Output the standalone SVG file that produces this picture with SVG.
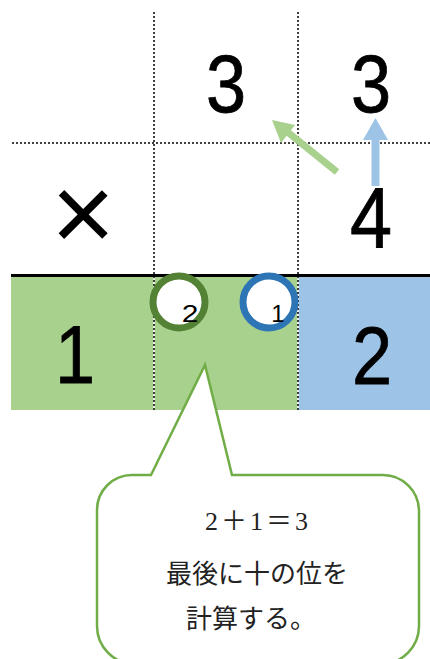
<svg xmlns="http://www.w3.org/2000/svg" width="430" height="659" viewBox="0 0 430 659">
<style>
.big{font-family:"Liberation Sans",Arial,sans-serif;font-size:82px;fill:#000;text-anchor:middle;stroke:#000;stroke-width:0.8}
.small{font-family:"Liberation Sans",Arial,sans-serif;font-size:24px;fill:#000;text-anchor:middle}
.dot{stroke:#000;stroke-width:1.5;stroke-dasharray:2 2;fill:none}
.jp{font-family:"Liberation Serif","Noto Sans CJK JP",serif;font-size:26px;fill:#222;text-anchor:middle}
</style>
<rect width="430" height="659" fill="#fff"/>
<g id="grid">
<rect x="11" y="277" width="287" height="133" fill="#A9D18E"/>
<rect x="298" y="277" width="132" height="133" fill="#9DC3E6"/>
<line x1="154" y1="277" x2="154" y2="410" stroke="#fff" stroke-width="1.5"/>
<line x1="298" y1="277" x2="298" y2="410" stroke="#fff" stroke-width="1.5"/>
<line class="dot" x1="154" y1="12" x2="154" y2="410"/>
<line class="dot" x1="298" y1="12" x2="298" y2="410"/>
<line class="dot" x1="12" y1="143" x2="430" y2="143"/>
<line x1="11" y1="275.5" x2="430" y2="275.5" stroke="#000" stroke-width="3"/>
</g>
<g id="digits">
<text class="big" x="226" y="112" transform="translate(226 0) scale(0.88 1) translate(-226 0)">3</text>
<text class="big" x="371" y="112" transform="translate(371 0) scale(0.88 1) translate(-371 0)">3</text>
<text class="big" x="83" y="251" style="font-size:110px;stroke-width:0">×</text>
<text class="big" x="371" y="247" style="font-size:86px" transform="translate(371 0) scale(0.88 1) translate(-371 0)">4</text>
<text class="big" x="75" y="383" transform="translate(75 0) scale(0.88 1) translate(-75 0)">1</text>
<text class="big" x="372" y="384" transform="translate(372 0) scale(0.88 1) translate(-372 0)">2</text>
</g>
<g id="carry-circles">
<circle cx="179" cy="302" r="26" fill="#fff" stroke="#548235" stroke-width="7"/>
<circle cx="269" cy="302" r="26" fill="#fff" stroke="#2E75B6" stroke-width="7"/>
<text class="small" x="190" y="322" transform="translate(190 0) scale(1.25 1) translate(-190 0)">2</text>
<text class="small" x="278" y="322">1</text>
</g>
<g id="connectors">
<line x1="337" y1="172" x2="285" y2="130" stroke="#A9D18E" stroke-width="7"/>
<polygon points="272,120 295,125 281,143" fill="#A9D18E"/>
<line x1="375.5" y1="186" x2="375.5" y2="138" stroke="#9DC3E6" stroke-width="8"/>
<polygon points="375.5,118 388,140 363,140" fill="#9DC3E6"/>
</g>
<g id="callout">
<path d="M151,475 L205,365 L232,475 L383,475 A36 36 0 0 1 419,511 L419,626 A38 38 0 0 1 381,664 L135,664 A38 38 0 0 1 97,626 L97,510 A35 35 0 0 1 132,475 Z" fill="#fff" stroke="#70AD47" stroke-width="2.5"/>
<text class="jp" x="258" y="530" letter-spacing="3">2＋1＝3</text>
<text class="jp" x="257" y="583">最後に十の位を</text>
<text class="jp" x="251" y="628">計算する。</text>
</g>
</svg>
